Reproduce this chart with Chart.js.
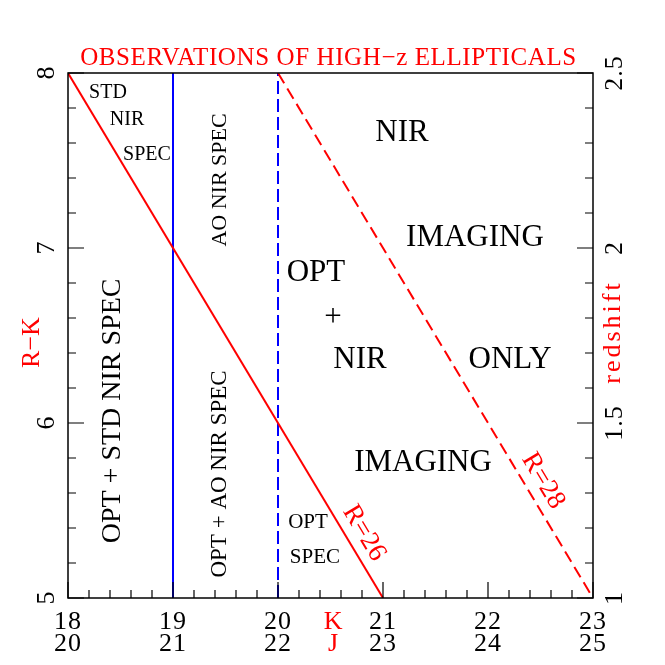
<!DOCTYPE html>
<html>
<head>
<meta charset="utf-8">
<script src="https://cdn.jsdelivr.net/npm/chart.js@4"></script>
<style>
  body { margin: 0; background: #fff; }
  canvas { display: block; }
</style>
</head>
<body>
<canvas id="obsChart" width="665" height="665"></canvas>
<script>
// axis ranges and tick labels
const kTicks = [18, 19, 20, 21, 22, 23];
const jTicks = [20, 21, 22, 23, 24, 25];
const rkTicks = [5, 6, 7, 8];
const zTicks = [1, 1.5, 2, 2.5];

// R = 26 and R = 28 limits (R-K vs K)
const r26K = [18, 21];
const r26RK = [8, 5];
const r28K = [20, 23];
const r28RK = [8, 5];

// spectroscopy limits in K
const stdSpecK = [19, 19];
const aoSpecK = [20, 20];
const limitRK = [5, 8];

// region labels: [text, K, R-K]
const regionText = [
    ["STD", 18.381, 7.886],
    ["NIR", 18.562, 7.731],
    ["SPEC", 18.752, 7.531],
    ["NIR", 21.181, 7.657],
    ["IMAGING", 21.876, 7.057],
    ["OPT", 20.362, 6.857],
    ["+", 20.524, 6.6],
    ["NIR", 20.781, 6.36],
    ["ONLY", 22.21, 6.36],
    ["IMAGING", 21.381, 5.771],
    ["OPT", 20.286, 5.434],
    ["SPEC", 20.352, 5.234]
];
const regionSize = [20, 20, 20, 31, 31, 31, 31, 31, 31, 31, 21, 21];

const verticalText = [
    ["AO NIR SPEC", 19.448, 7.389],
    ["OPT + STD NIR SPEC", 18.429, 6.069],
    ["OPT + AO NIR SPEC", 19.448, 5.709]
];
const verticalSize = [22, 28, 23];

const lineText = [
    ["R=26", 20.819, 5.371],
    ["R=28", 22.524, 5.669]
];

const FONT = "'Liberation Serif', 'Times New Roman', serif";

function pts(xs, ys) {
    return xs.map((x, i) => ({ x: x, y: ys[i] }));
}

function drawText(ctx, txt, x, y, size, color, angle, spacing) {
    ctx.save();
    ctx.translate(x, y);
    if (angle) ctx.rotate(angle);
    ctx.font = size + "px " + FONT;
    ctx.letterSpacing = (spacing || 0) + "px";
    ctx.fillStyle = color;
    ctx.textAlign = "center";
    ctx.textBaseline = "middle";
    ctx.fillText(txt, 0, 0);
    ctx.restore();
}

const decorPlugin = {
    id: "decor",
    afterDraw(chart) {
        const ctx = chart.ctx;
        const a = chart.chartArea;
        const xs = chart.scales.x, ys = chart.scales.y, zs = chart.scales.z;

        ctx.save();
        ctx.strokeStyle = "#000";
        ctx.lineWidth = 1.5;
        ctx.strokeRect(a.left, a.top, a.right - a.left, a.bottom - a.top);

        ctx.lineWidth = 1.2;
        ctx.beginPath();
        // bottom ticks, minor every 0.2
        for (let v = kTicks[0]; v <= kTicks[kTicks.length - 1] + 1e-6; v += 0.2) {
            const px = xs.getPixelForValue(v);
            const major = Math.abs(v - Math.round(v)) < 1e-6;
            ctx.moveTo(px, a.bottom);
            ctx.lineTo(px, a.bottom - (major ? 16 : 8));
        }
        // left ticks
        for (let v = rkTicks[0]; v <= rkTicks[rkTicks.length - 1] + 1e-6; v += 0.2) {
            const py = ys.getPixelForValue(v);
            const major = Math.abs(v - Math.round(v)) < 1e-6;
            ctx.moveTo(a.left, py);
            ctx.lineTo(a.left + (major ? 16 : 8), py);
        }
        // right ticks (redshift)
        for (let v = zTicks[0]; v <= zTicks[zTicks.length - 1] + 1e-6; v += 0.1) {
            const py = zs.getPixelForValue(v);
            const major = Math.abs(v * 2 - Math.round(v * 2)) < 1e-6;
            ctx.moveTo(a.right, py);
            ctx.lineTo(a.right - (major ? 16 : 8), py);
        }
        ctx.stroke();
        ctx.restore();

        // tick labels
        kTicks.forEach((v, i) => {
            const px = xs.getPixelForValue(v);
            drawText(ctx, String(v), px, a.bottom + 24, 26, "#000", 0, 1);
            drawText(ctx, String(jTicks[i]), px, a.bottom + 46, 26, "#000", 0, 1);
        });
        rkTicks.forEach(v => {
            drawText(ctx, String(v), a.left - 21, ys.getPixelForValue(v), 26, "#000", -Math.PI / 2);
        });
        zTicks.forEach(v => {
            drawText(ctx, String(v), a.right + 22, zs.getPixelForValue(v), 26, "#000", -Math.PI / 2, 1);
        });

        // axis titles
        const kx = xs.getPixelForValue(20.525);
        drawText(ctx, "K", kx, a.bottom + 24, 26, "#f00");
        drawText(ctx, "J", kx, a.bottom + 46, 26, "#f00");
        drawText(ctx, "R\u2212K", a.left - 36, ys.getPixelForValue(6.46), 26, "#f00", -Math.PI / 2);
        drawText(ctx, "redshift", a.right + 20, ys.getPixelForValue(6.52), 26, "#f00", -Math.PI / 2, 3);
        drawText(ctx, "OBSERVATIONS OF HIGH\u2212z ELLIPTICALS", (a.left + a.right) / 2 - 2, a.top - 15, 25, "#f00", 0, 0.6);

        // region labels
        regionText.forEach((t, i) => {
            drawText(ctx, t[0], xs.getPixelForValue(t[1]), ys.getPixelForValue(t[2]), regionSize[i], "#000");
        });
        verticalText.forEach((t, i) => {
            drawText(ctx, t[0], xs.getPixelForValue(t[1]), ys.getPixelForValue(t[2]), verticalSize[i], "#000", -Math.PI / 2);
        });
        const ang = Math.atan2(ys.getPixelForValue(5) - ys.getPixelForValue(8),
                               xs.getPixelForValue(21) - xs.getPixelForValue(18));
        lineText.forEach(t => {
            drawText(ctx, t[0], xs.getPixelForValue(t[1]), ys.getPixelForValue(t[2]), 27, "#f00", ang);
        });
    }
};

new Chart(document.getElementById("obsChart"), {
    type: "scatter",
    data: {
        datasets: [
            { data: pts(r26K, r26RK), borderColor: "#ff0000", borderWidth: 2, showLine: true, pointRadius: 0 },
            { data: pts(r28K, r28RK), borderColor: "#ff0000", borderWidth: 2, borderDash: [12, 6], showLine: true, pointRadius: 0 },
            { data: pts(stdSpecK, limitRK), borderColor: "#0000ff", borderWidth: 2, showLine: true, pointRadius: 0 },
            { data: pts(aoSpecK, limitRK), borderColor: "#0000ff", borderWidth: 2, borderDash: [13, 5], showLine: true, pointRadius: 0 }
        ]
    },
    options: {
        responsive: false,
        animation: false,
        layout: { padding: { left: 68, right: 72, top: 73, bottom: 67 } },
        plugins: { legend: { display: false }, tooltip: { enabled: false } },
        scales: {
            x: { type: "linear", min: 18, max: 23, display: false },
            y: { type: "linear", min: 5, max: 8, display: false },
            z: { type: "linear", position: "right", min: 1, max: 2.5, display: false }
        }
    },
    plugins: [decorPlugin]
});
</script>
</body>
</html>
